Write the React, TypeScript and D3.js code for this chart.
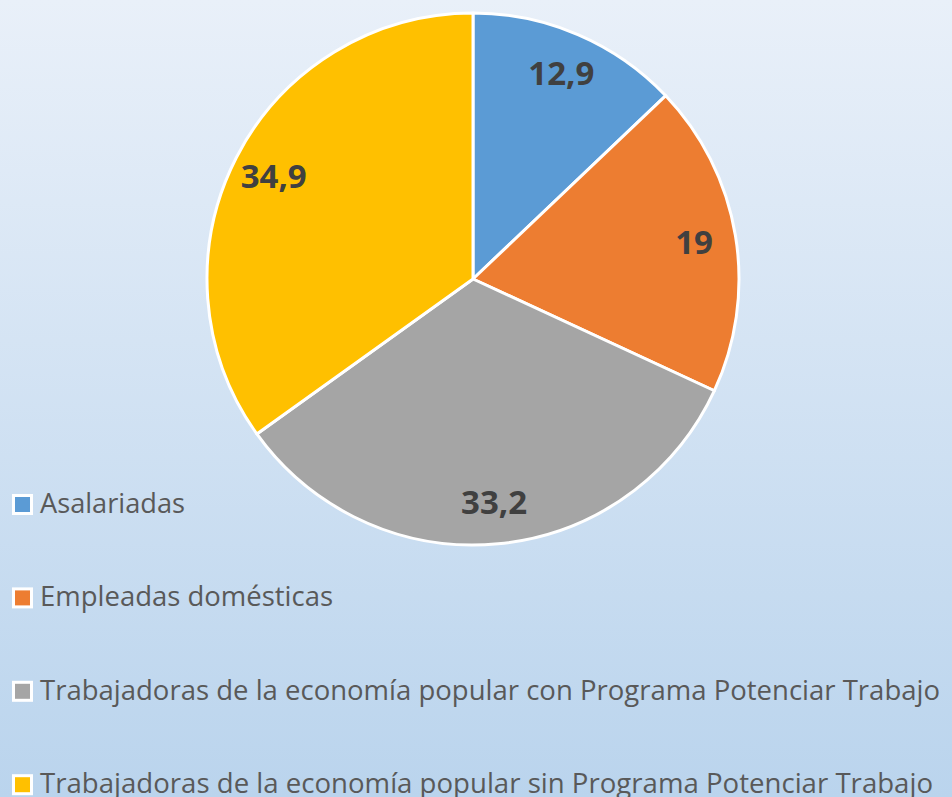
import React, { useEffect, useRef } from "react";
import * as d3 from "d3";

const categories = [
  "Asalariadas",
  "Empleadas domésticas",
  "Trabajadoras de la economía popular con Programa Potenciar Trabajo",
  "Trabajadoras de la economía popular sin Programa Potenciar Trabajo",
];
const values = [12.9, 19, 33.2, 34.9];
const valueLabels = ["12,9", "19", "33,2", "34,9"];
const colors = ["#5b9bd5", "#ed7d31", "#a5a5a5", "#ffc000"];

export default function App() {
  const ref = useRef<SVGSVGElement>(null);

  useEffect(() => {
    const svg = d3.select(ref.current);
    svg.selectAll("*").remove();

    const width = 952;
    const height = 797;
    const cx = 473;
    const cy = 279;
    const radius = 266;

    svg.attr("width", width).attr("height", height);

    // background gradient
    const grad = svg.append("defs").append("linearGradient")
      .attr("id", "bg")
      .attr("x1", 0).attr("y1", 0).attr("x2", 0).attr("y2", 1);
    grad.append("stop").attr("offset", "0%").attr("stop-color", "#e9f0f9");
    grad.append("stop").attr("offset", "100%").attr("stop-color", "#bad4ed");
    svg.append("rect").attr("width", width).attr("height", height).attr("fill", "url(#bg)");

    const data = values.map((v, i) => ({ v, i }));
    const pie = d3.pie<{ v: number; i: number }>().value(d => d.v).sort(null);
    const arcs = pie(data);

    const arc = d3.arc<d3.PieArcDatum<{ v: number; i: number }>>()
      .innerRadius(0)
      .outerRadius(radius);
    const labelArc = d3.arc<d3.PieArcDatum<{ v: number; i: number }>>()
      .innerRadius(224)
      .outerRadius(224);

    const g = svg.append("g").attr("transform", `translate(${cx},${cy})`);

    g.selectAll("path")
      .data(arcs)
      .enter()
      .append("path")
      .attr("d", arc)
      .attr("fill", d => colors[d.data.i])
      .attr("stroke", "#fff")
      .attr("stroke-width", 3)
      .attr("stroke-linejoin", "round");

    g.selectAll("text.val")
      .data(arcs)
      .enter()
      .append("text")
      .attr("class", "val")
      .attr("transform", d => `translate(${labelArc.centroid(d)})`)
      .attr("text-anchor", "middle")
      .attr("dy", "0.35em")
      .style("font-family", "'Open Sans', sans-serif")
      .style("font-weight", "bold")
      .style("font-size", "33px")
      .attr("fill", "#404040")
      .text(d => valueLabels[d.data.i]);

    // Legend
    const legendWidths = [145, 293, 900, 893];
    const leg = svg.append("g");
    const rows = leg.selectAll("g")
      .data(categories)
      .enter()
      .append("g")
      .attr("transform", (d, i) => `translate(0, ${513 + i * 93.4})`);

    rows.append("rect")
      .attr("x", 13.5)
      .attr("y", -17.5)
      .attr("width", 18)
      .attr("height", 18)
      .attr("fill", (d, i) => colors[i])
      .attr("stroke", "#fff")
      .attr("stroke-width", 3);

    rows.append("text")
      .attr("x", 40)
      .attr("y", 0)
      .attr("textLength", (d, i) => legendWidths[i])
      .attr("lengthAdjust", "spacingAndGlyphs")
      .style("font-family", "'Open Sans', sans-serif")
      .style("font-size", "28px")
      .attr("fill", "#595959")
      .text(d => d);
  }, []);

  return (
    <svg ref={ref} style={{ position: "absolute", left: 0, top: 0 }}></svg>
  );
}
